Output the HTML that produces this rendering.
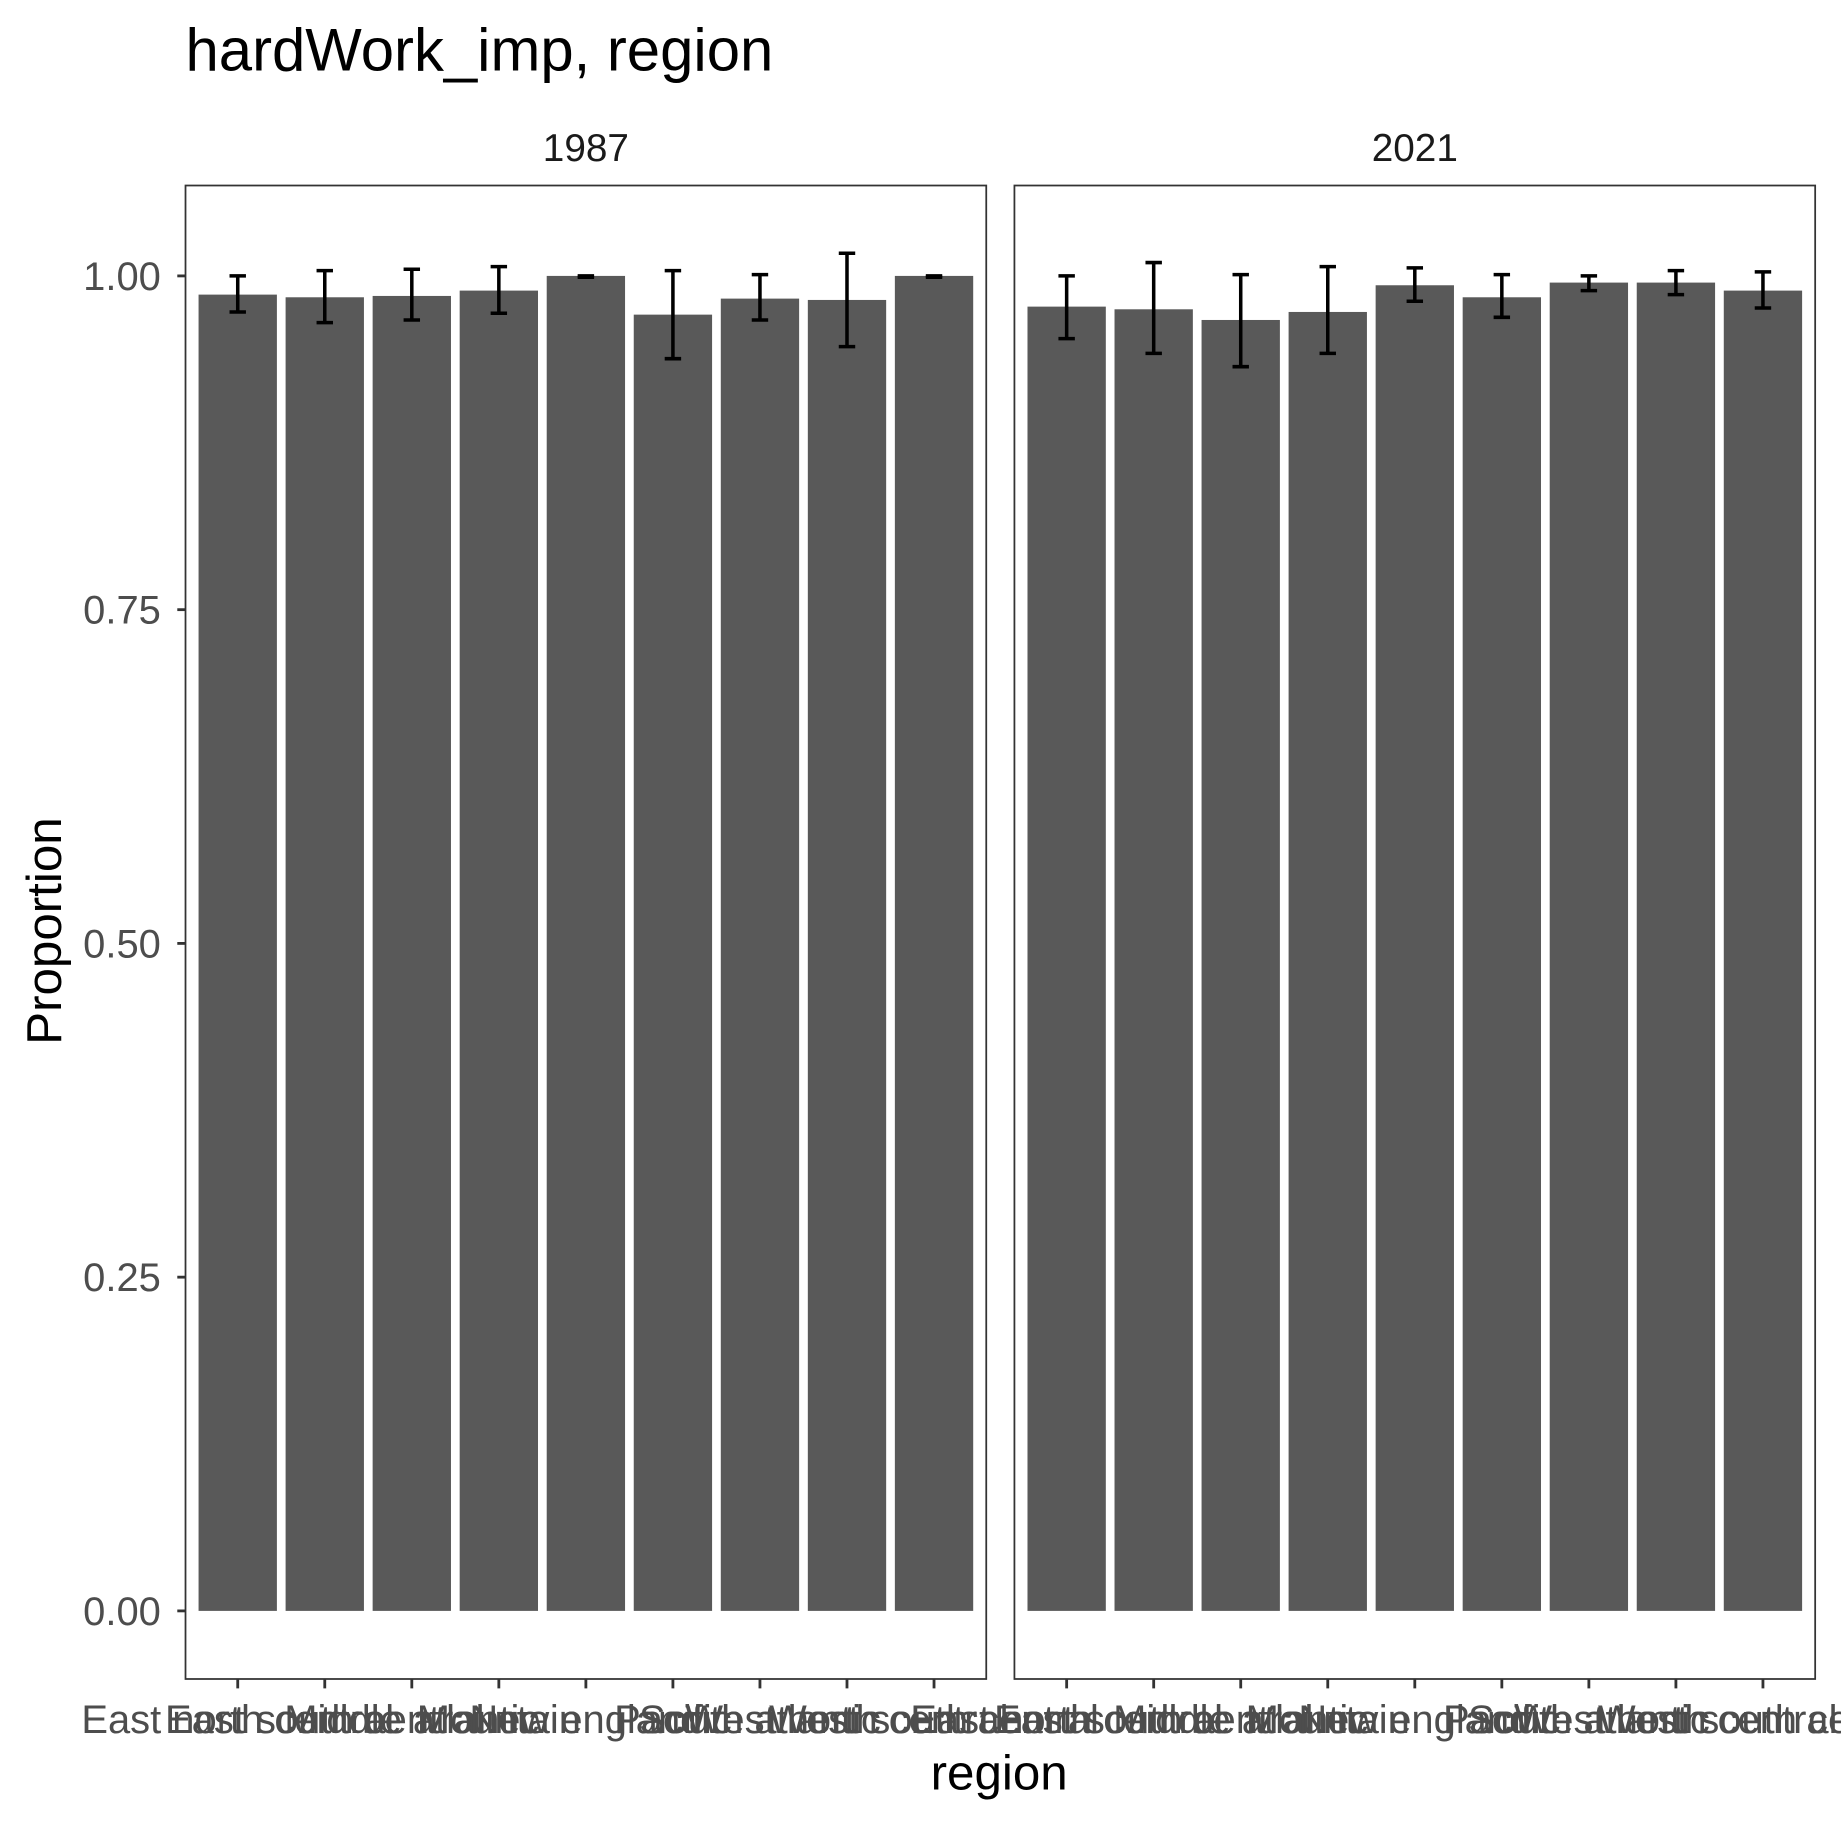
<!DOCTYPE html>
<html><head><meta charset="utf-8"><style>
html,body{margin:0;padding:0;background:#fff;}
svg{display:block;font-family:"Liberation Sans",Arial,sans-serif;}
</style></head><body>
<svg id="chart" width="1841" height="1824" viewBox="0 0 1568 1553.5" preserveAspectRatio="none" xmlns="http://www.w3.org/2000/svg">
<rect width="1568" height="1553.5" fill="#fff"/>
<text x="158" y="60" font-size="51" fill="#000">hardWork_imp, region</text>
<text transform="translate(52,793) rotate(-90)" text-anchor="middle" font-size="42" fill="#000">Proportion</text>
<text x="851" y="1524" text-anchor="middle" font-size="42" fill="#000">region</text>
<g id="plot"></g>
</svg>
<script>
const categories = ["East north central","East south central","Middle atlantic","Mountain","New england","Pacific","South atlantic","West north central","West south central"];
const panels = ["1987","2021"];
const values1987 = [0.986,0.984,0.985,0.989,1.0,0.971,0.983,0.982,1.0];
const lower1987 = [0.973,0.965,0.967,0.972,0.999,0.938,0.967,0.947,0.999];
const upper1987 = [1.0,1.004,1.005,1.007,1.0,1.004,1.001,1.017,1.0];
const values2021 = [0.977,0.975,0.967,0.973,0.993,0.984,0.995,0.995,0.989];
const lower2021 = [0.953,0.942,0.932,0.942,0.981,0.969,0.989,0.986,0.976];
const upper2021 = [1.0,1.01,1.001,1.007,1.006,1.001,1.0,1.004,1.003];
const yTicks = [0,0.25,0.5,0.75,1.0];
const yTickLabels = ["0.00","0.25","0.50","0.75","1.00"];

const NS="http://www.w3.org/2000/svg";
const plotG=document.getElementById('plot');
function mk(tag,attrs,parent){const e=document.createElementNS(NS,tag);for(const k in attrs)e.setAttribute(k,attrs[k]);(parent||plotG).appendChild(e);return e;}
const panelTop=158,panelBottom=1430;
function yScale(v){return 1372-(v)*1137;}
const panelX=[158,864], panelW=682;
const step=panelW/(categories.length+0.2);
function xScale(p,i){return panelX[p]+step*(0.6+i);}
const data=[[values1987,lower1987,upper1987],[values2021,lower2021,upper2021]];

yTicks.forEach((t,i)=>{
  const y=yScale(t);
  const tk=mk('line',{x1:151,x2:158,y1:y,y2:y,stroke:'#333','stroke-width':2.4});
  
  
  const lb=mk('text',{x:137,y:y+12,'text-anchor':'end','font-size':34,fill:'#4d4d4d'});
  lb.textContent=yTickLabels[i];
  
  
});

panels.forEach((pn,p)=>{
  const st=mk('text',{x:panelX[p]+panelW/2,y:137,'text-anchor':'middle','font-size':33,fill:'#1a1a1a'});
  st.textContent=pn;
  
  
  const [vals,lo,hi]=data[p];
  categories.forEach((c,i)=>{
    const cx=xScale(p,i), bw=step*0.9;
    const b=mk('rect',{x:cx-bw/2,y:yScale(vals[i]),width:bw,height:yScale(0)-yScale(vals[i]),fill:'#595959'});
    
    
    const eg=mk('g',{stroke:'#000','stroke-width':3,fill:'none'});
    
    
    mk('line',{x1:cx,x2:cx,y1:yScale(lo[i]),y2:yScale(hi[i])},eg);
    mk('line',{x1:cx-7,x2:cx+7,y1:yScale(lo[i]),y2:yScale(lo[i])},eg);
    mk('line',{x1:cx-7,x2:cx+7,y1:yScale(hi[i]),y2:yScale(hi[i])},eg);
    const tk=mk('line',{x1:cx,x2:cx,y1:panelBottom,y2:panelBottom+8,stroke:'#333','stroke-width':2.4});
    
    
    const lb=mk('text',{x:cx,y:1476,'text-anchor':'middle','font-size':34,fill:'#4d4d4d'});
    lb.textContent=c;
    
    
  });
  const fr=mk('rect',{x:panelX[p],y:panelTop,width:panelW,height:panelBottom-panelTop,fill:'none',stroke:'#333','stroke-width':1.5});
  
  
});
</script>
</body></html>
